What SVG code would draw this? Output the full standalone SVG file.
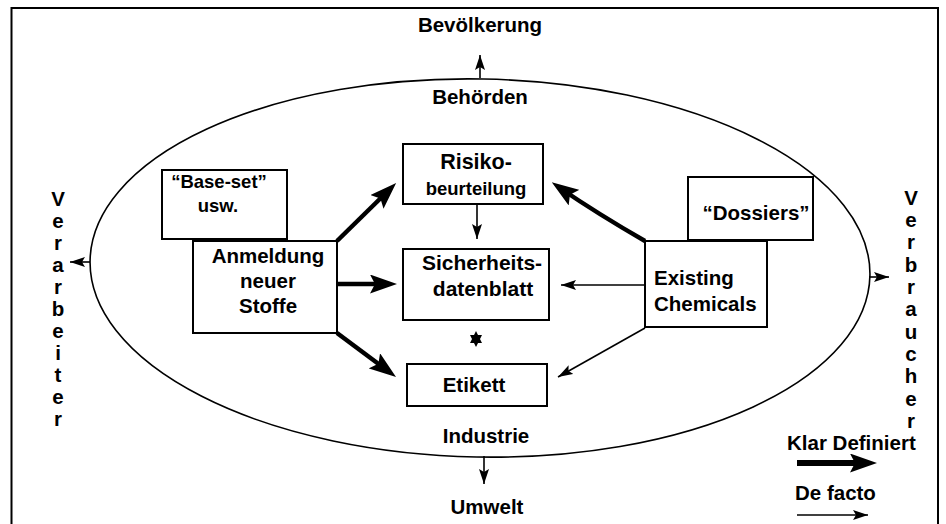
<svg xmlns="http://www.w3.org/2000/svg" width="946" height="524" viewBox="0 0 946 524">
  <style>
    .frame { fill: none; stroke: #000; stroke-width: 2; }
    .ring { fill: none; stroke: #000; stroke-width: 1.6; }
    .box { fill: #fff; stroke: #000; stroke-width: 2; }
    .lbl { font-family: "Liberation Sans", Arial, Helvetica, sans-serif; font-weight: bold; font-size: 20.5px; fill: #000; }
    .sm { font-size: 18.5px; }
    .mid { text-anchor: middle; }
    .thin { fill: none; stroke: #000; stroke-width: 1.6; marker-end: url(#headThin); }
    .thick { fill: none; stroke: #000; stroke-width: 4.5; marker-end: url(#headThick); }
  </style>
  <defs>
    <marker id="headThin" markerUnits="userSpaceOnUse" markerWidth="15" markerHeight="10" refX="15" refY="5" orient="auto">
      <path d="M0,0 L15,5 L0,10 L3,5 z" fill="#000"/>
    </marker>
    <marker id="headThick" markerUnits="userSpaceOnUse" markerWidth="27" markerHeight="19" refX="17" refY="9.5" orient="auto">
      <path d="M0,0 L27,9.5 L0,19 L5,9.5 z" fill="#000"/>
    </marker>
  </defs>

  <rect class="frame" x="11.5" y="8" width="926.5" height="530"/>

  <!-- outer ring: authorities above, industry below -->
  <ellipse class="ring" cx="480" cy="268" rx="390" ry="189" transform="rotate(1.1 480 268)"/>

  <g id="outer-labels">
    <text class="lbl mid" x="480" y="32">Bevölkerung</text>
    <text class="lbl mid" x="480" y="104">Behörden</text>
    <text class="lbl mid" x="486" y="443">Industrie</text>
    <text class="lbl mid" x="487" y="514">Umwelt</text>
  </g>

  <g id="verarbeiter">
    <text class="lbl mid">
      <tspan x="58" y="206">V</tspan><tspan x="58" y="228">e</tspan><tspan x="58" y="250">r</tspan><tspan x="58" y="272">a</tspan><tspan x="58" y="294">r</tspan><tspan x="58" y="316">b</tspan><tspan x="58" y="338">e</tspan><tspan x="58" y="360">i</tspan><tspan x="58" y="382">t</tspan><tspan x="58" y="404">e</tspan><tspan x="58" y="426">r</tspan>
    </text>
  </g>

  <g id="verbraucher">
    <text class="lbl mid">
      <tspan x="911" y="205">V</tspan><tspan x="911" y="227">e</tspan><tspan x="911" y="249">r</tspan><tspan x="911" y="272">b</tspan><tspan x="911" y="294">r</tspan><tspan x="911" y="316">a</tspan><tspan x="911" y="339">u</tspan><tspan x="911" y="361">c</tspan><tspan x="911" y="383">h</tspan><tspan x="911" y="406">e</tspan><tspan x="911" y="428">r</tspan>
    </text>
  </g>

  <g id="base-set">
    <rect class="box" x="162" y="170" width="125" height="69"/>
    <text class="lbl sm mid" x="219" y="188">“Base-set”</text>
    <text class="lbl sm mid" x="218" y="212">usw.</text>
  </g>

  <g id="anmeldung">
    <rect class="box" x="193" y="241" width="144" height="92"/>
    <text class="lbl mid" x="268" y="263">Anmeldung</text>
    <text class="lbl mid" x="268" y="288">neuer</text>
    <text class="lbl mid" x="268" y="313">Stoffe</text>
  </g>

  <g id="risiko">
    <rect class="box" x="403" y="144" width="140" height="60"/>
    <text class="lbl mid" x="476" y="169" style="font-size:21.5px">Risiko-</text>
    <text class="lbl sm mid" x="476" y="195">beurteilung</text>
  </g>

  <g id="sicherheitsdatenblatt">
    <rect class="box" x="403" y="249" width="146" height="71"/>
    <text class="lbl mid" x="482" y="270" style="font-size:21px">Sicherheits-</text>
    <text class="lbl mid" x="483" y="296" style="font-size:21px">datenblatt</text>
  </g>

  <g id="etikett">
    <rect class="box" x="407" y="364" width="140" height="42"/>
    <text class="lbl mid" x="474" y="392">Etikett</text>
  </g>

  <g id="dossiers">
    <rect class="box" x="688" y="177" width="125" height="63"/>
    <text class="lbl mid" x="756" y="220">“Dossiers”</text>
  </g>

  <g id="existing">
    <rect class="box" x="645" y="241" width="122" height="86"/>
    <text class="lbl" x="654" y="285">Existing</text>
    <text class="lbl" x="654" y="311">Chemicals</text>
  </g>

  <g id="connectors">
    <!-- defined routes (bold) -->
    <path class="thick" d="M337,241 L389,190"/>
    <path class="thick" d="M338,284 L387,284"/>
    <path class="thick" d="M337,333 L388,371"/>
    <path class="thick" d="M645,241 Q598,214 560,188"/>
    <!-- de facto routes (thin) -->
    <path class="thin" d="M477,204 L477,239"/>
    <path class="thin" d="M645,285 L561,285"/>
    <path class="thin" d="M645,328 L558,377"/>
    <!-- out of the ring -->
    <path class="thin" d="M480,78 L480,55"/>
    <path class="thin" d="M484,456 L484,484"/>
    <path class="thin" d="M90,262 L70,262"/>
    <path class="thin" d="M869,277 L889,277"/>
    <!-- two-way link between data sheet and label -->
    <path d="M476,331 L482,343 L470,343 z M470,335 L482,335 L476,347 z" fill="#000"/>
  </g>

  <g id="legend">
    <text class="lbl" x="787" y="450">Klar Definiert</text>
    <path class="thick" d="M797,463 L867,463" style="stroke-width:6"/>
    <text class="lbl" x="795" y="500">De facto</text>
    <path class="thin" d="M797,515 L868,515"/>
  </g>
</svg>
